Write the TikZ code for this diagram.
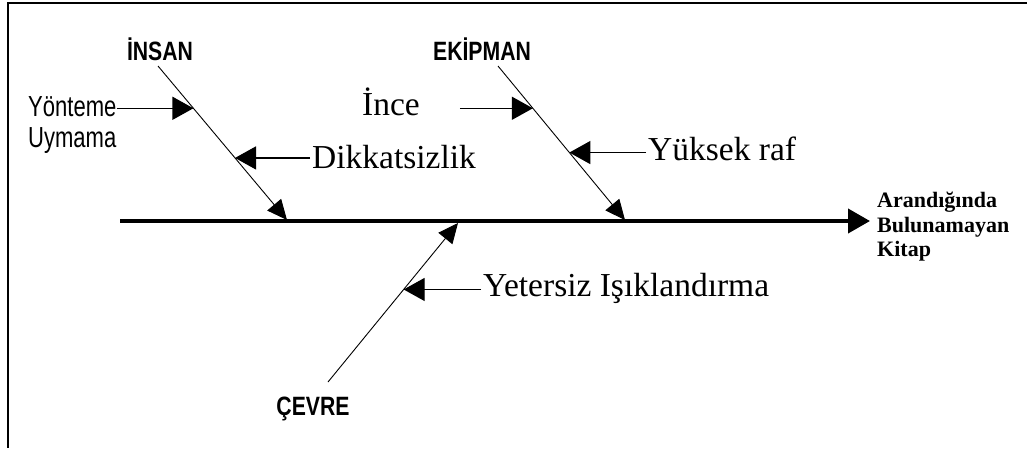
\documentclass[tikz,border=0pt]{standalone}
\usepackage{fontspec}
\setmainfont{Liberation Serif}
\newfontfamily\catfont{Liberation Sans Bold}[FakeStretch=0.8]
\newfontfamily\narrowsans{Liberation Sans}[FakeStretch=0.76]
\usetikzlibrary{arrows.meta,calc}

\begin{document}
\begin{tikzpicture}[x=1pt,y=-1pt,
  category/.style={inner sep=0pt, anchor=base, font=\catfont\fontsize{26.5}{30}\selectfont},
  cause/.style={inner sep=0pt, anchor=base west, font=\fontsize{33.5}{38}\selectfont},
  minorcause/.style={inner sep=0pt, anchor=base west, font=\narrowsans\fontsize{29}{33}\selectfont},
  effect/.style={inner sep=0pt, anchor=west, align=left, font=\bfseries\fontsize{22}{24.5}\selectfont},
  spine/.style={line width=4pt, -{Triangle[length=22pt,width=24pt]}},
  bone/.style={line width=0.9pt, -{Triangle[length=20pt,width=18pt]}},
  causearrow/.style={line width=1.3pt, -{Triangle[length=21pt,width=23pt]}},
  frame/.style={line width=2.5pt}]

\useasboundingbox (0,0) rectangle (1027,448);

% open frame: top and left edges only
\draw[frame] (1027,3) -- (8,3) -- (8,448);

% main spine and the effect
\coordinate (tail) at (120,221);
\coordinate (head) at (870,221);
\draw[spine] (tail) -- (head);
\node[effect] (effect) at (877,227) {Arandığında\\Bulunamayan\\Kitap};

% category labels
\node[category] (insan) at (160,60) {İNSAN};
\node[category] (ekip) at (482,60) {EKİPMAN};
\node[category] (cevre) at (313,415) {ÇEVRE};

% bones
\coordinate (insanA) at (158,66);
\coordinate (insanB) at (287,220);
\coordinate (ekipA) at (498,66);
\coordinate (ekipB) at (625,220);
\coordinate (cevreA) at (328,382);
\coordinate (cevreB) at (458,223);
\draw[bone] (insanA) -- (insanB);
\draw[bone] (ekipA) -- (ekipB);
\draw[bone] (cevreA) -- (cevreB);

% causes on the İNSAN bone
\coordinate (c1) at ($(insanA)!0.2745!(insanB)$);
\node[minorcause] (yon1) at (28,116) {Yönteme};
\node[minorcause] (yon2) at (28,147) {Uymama};
\draw[causearrow] (yon1.east |- c1) -- (c1);

\coordinate (c2) at ($(insanA)!0.597!(insanB)$);
\node[cause] (dikkat) at (312,168) {Dikkatsizlik};
\draw[causearrow] ($(dikkat.west |- c2)+(-2,0)$) -- (c2);

% causes on the EKİPMAN bone
\coordinate (c3) at ($(ekipA)!0.2745!(ekipB)$);
\coordinate (c3s) at ($(c3)+(-73,0)$);
\node[cause] (ince) at (362,115) {İnce};
\draw[causearrow] (c3s) -- (c3);

\coordinate (c4) at ($(ekipA)!0.562!(ekipB)$);
\node[cause] (yuksek) at (648,160) {Yüksek raf};
\draw[causearrow] ($(yuksek.west |- c4)+(-2,0)$) -- (c4);

% cause on the ÇEVRE bone
\coordinate (c5) at ($(cevreA)!0.582!(cevreB)$);
\node[cause] (yeter) at (483,296) {Yetersiz Işıklandırma};
\draw[causearrow] ($(yeter.west |- c5)+(-2,0)$) -- (c5);

\end{tikzpicture}
\end{document}
